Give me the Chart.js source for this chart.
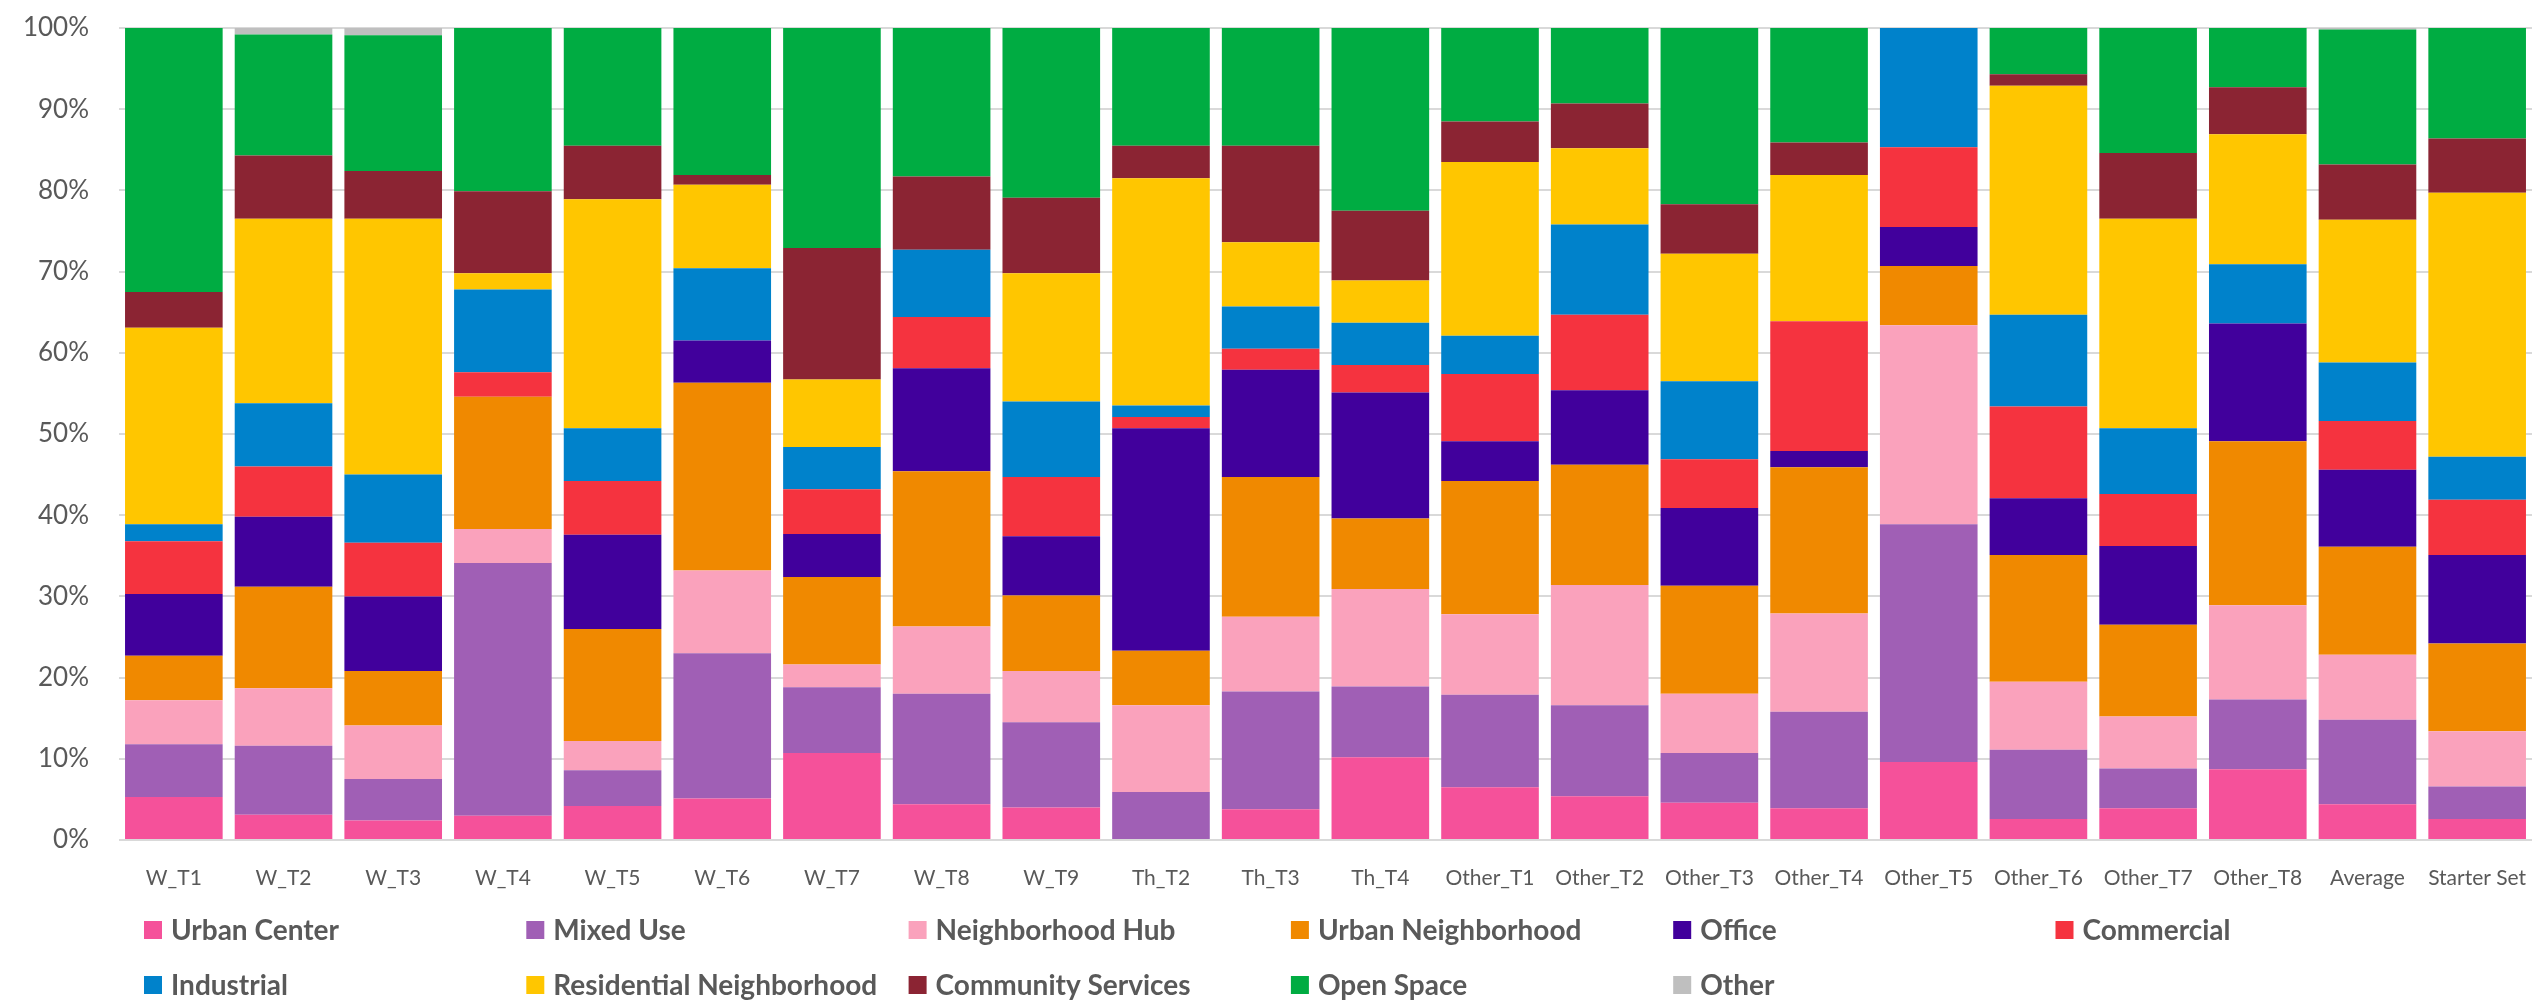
<!DOCTYPE html>
<html>
<head>
<meta charset="utf-8">
<title>Land use mix by scenario</title>
<script src="https://cdn.jsdelivr.net/npm/chart.js@4.4.1/dist/chart.umd.min.js"></script>
<style>
  html, body { margin: 0; padding: 0; background: #fff; }
  #wrap { width: 2539px; height: 1001px; }
</style>
</head>
<body>
<div id="wrap"><canvas id="mixChart" width="2539" height="1001"></canvas></div>
<script>
const categories = ['W_T1', 'W_T2', 'W_T3', 'W_T4', 'W_T5', 'W_T6', 'W_T7', 'W_T8', 'W_T9',
  'Th_T2', 'Th_T3', 'Th_T4', 'Other_T1', 'Other_T2', 'Other_T3', 'Other_T4', 'Other_T5',
  'Other_T6', 'Other_T7', 'Other_T8', 'Average', 'Starter Set'];

const urbanCenter       = [5.3, 3.1, 2.4, 3.0, 4.2, 5.1, 10.7, 4.4, 4.0, 0, 3.8, 10.2, 6.5, 5.4, 4.6, 3.9, 9.6, 2.6, 3.9, 8.7, 4.4, 2.6];
const mixedUse          = [6.5, 8.5, 5.1, 31.1, 4.4, 17.9, 8.1, 13.6, 10.5, 5.9, 14.5, 8.7, 11.4, 11.2, 6.1, 11.9, 29.3, 8.5, 4.9, 8.6, 10.4, 4.0];
const neighborhoodHub   = [5.4, 7.1, 6.6, 4.2, 3.6, 10.2, 2.8, 8.3, 6.3, 10.7, 9.2, 12.0, 9.9, 14.8, 7.3, 12.1, 24.5, 8.4, 6.4, 11.6, 8.0, 6.8];
const urbanNeighborhood = [5.5, 12.5, 6.7, 16.3, 13.8, 23.1, 10.8, 19.1, 9.3, 6.7, 17.2, 8.7, 16.4, 14.8, 13.3, 18.0, 7.3, 15.6, 11.3, 20.2, 13.3, 10.8];
const office            = [7.6, 8.6, 9.2, 0, 11.6, 5.2, 5.3, 12.7, 7.3, 27.4, 13.2, 15.5, 4.9, 9.2, 9.6, 2.0, 4.8, 7.0, 9.7, 14.5, 9.5, 10.9];
const commercial        = [6.5, 6.2, 6.6, 3.0, 6.6, 0, 5.5, 6.3, 7.3, 1.4, 2.6, 3.4, 8.3, 9.3, 6.0, 16.0, 9.8, 11.3, 6.4, 0, 6.0, 6.8];
const industrial        = [2.1, 7.8, 8.4, 10.2, 6.5, 8.9, 5.2, 8.3, 9.3, 1.4, 5.2, 5.2, 4.7, 11.1, 9.6, 0, 14.7, 11.3, 8.1, 7.3, 7.2, 5.3];
const residential       = [24.2, 22.7, 31.5, 2.0, 28.2, 10.3, 8.3, 0, 15.8, 28.0, 7.9, 5.2, 21.4, 9.4, 15.7, 18.0, 0, 28.2, 25.8, 16.0, 17.6, 32.5];
const communityServices = [4.4, 7.8, 5.9, 10.1, 6.6, 1.2, 16.2, 9.0, 9.3, 4.0, 11.9, 8.6, 5.0, 5.5, 6.1, 4.0, 0, 1.4, 8.1, 5.8, 6.8, 6.7];
const openSpace         = [32.5, 14.9, 16.7, 20.1, 14.5, 18.1, 27.1, 18.3, 20.9, 14.5, 14.5, 22.5, 11.5, 9.3, 21.7, 14.1, 0, 5.7, 15.4, 7.3, 16.6, 13.6];
const other             = [0, 0.8, 0.9, 0, 0, 0, 0, 0, 0, 0, 0, 0, 0, 0, 0, 0, 0, 0, 0, 0, 0.2, 0];

const yTicks = [0, 10, 20, 30, 40, 50, 60, 70, 80, 90, 100];

const series = [
  ['Urban Center', urbanCenter, '#F5519A'],
  ['Mixed Use', mixedUse, '#A05FB5'],
  ['Neighborhood Hub', neighborhoodHub, '#FAA2BC'],
  ['Urban Neighborhood', urbanNeighborhood, '#F08900'],
  ['Office', office, '#41009C'],
  ['Commercial', commercial, '#F5333F'],
  ['Industrial', industrial, '#0082CB'],
  ['Residential Neighborhood', residential, '#FFC600'],
  ['Community Services', communityServices, '#8B2433'],
  ['Open Space', openSpace, '#00AC42'],
  ['Other', other, '#BFBFBF']
];

const FONT = "Lato, 'Liberation Sans', sans-serif";
const TEXT = '#595959';

// legend laid out on a fixed grid, 6 columns x 2 rows, like the original
const gridLegend = {
  id: 'gridLegend',
  afterDraw(chart) {
    const ctx = chart.ctx;
    ctx.save();
    ctx.font = 'bold 28px ' + FONT;
    ctx.textBaseline = 'middle';
    chart.data.datasets.forEach((ds, i) => {
      const x = 144 + (i % 6) * 382.3;
      const y = i < 6 ? 930 : 985;
      ctx.fillStyle = ds.backgroundColor;
      ctx.fillRect(x, y - 9, 18, 18);
      ctx.fillStyle = TEXT;
      ctx.fillText(ds.label, x + 27, y + 1);
    });
    ctx.restore();
  }
};

new Chart(document.getElementById('mixChart'), {
  type: 'bar',
  data: {
    labels: categories,
    datasets: series.map(([label, values, color]) => ({
      label: label,
      data: values,
      backgroundColor: color,
      borderWidth: 0,
      categoryPercentage: 1,
      barPercentage: 0.89
    }))
  },
  options: {
    responsive: false,
    animation: false,
    devicePixelRatio: 1,
    layout: { padding: { top: 28, right: 7, bottom: 0, left: 0 } },
    plugins: {
      legend: { display: false },
      tooltip: { enabled: false }
    },
    scales: {
      x: {
        stacked: true,
        grid: { display: false },
        border: { display: false },
        ticks: { color: TEXT, font: { family: FONT, size: 21 }, padding: 18, maxRotation: 0, autoSkip: false },
        afterFit: (s) => { s.height = 161; s.paddingLeft = 0; s.paddingRight = 0; }
      },
      y: {
        stacked: true,
        min: 0,
        max: 100,
        afterBuildTicks: (s) => { s.ticks = yTicks.map(v => ({ value: v })); },
        grid: { color: '#D9D9D9', lineWidth: 2, drawTicks: false },
        border: { display: false },
        ticks: { color: TEXT, font: { family: FONT, size: 26 }, padding: 30, callback: (v) => v + '%' },
        afterFit: (s) => { s.width = 119; s.paddingTop = 0; s.paddingBottom = 0; }
      }
    }
  },
  plugins: [gridLegend]
});
</script>
</body>
</html>
